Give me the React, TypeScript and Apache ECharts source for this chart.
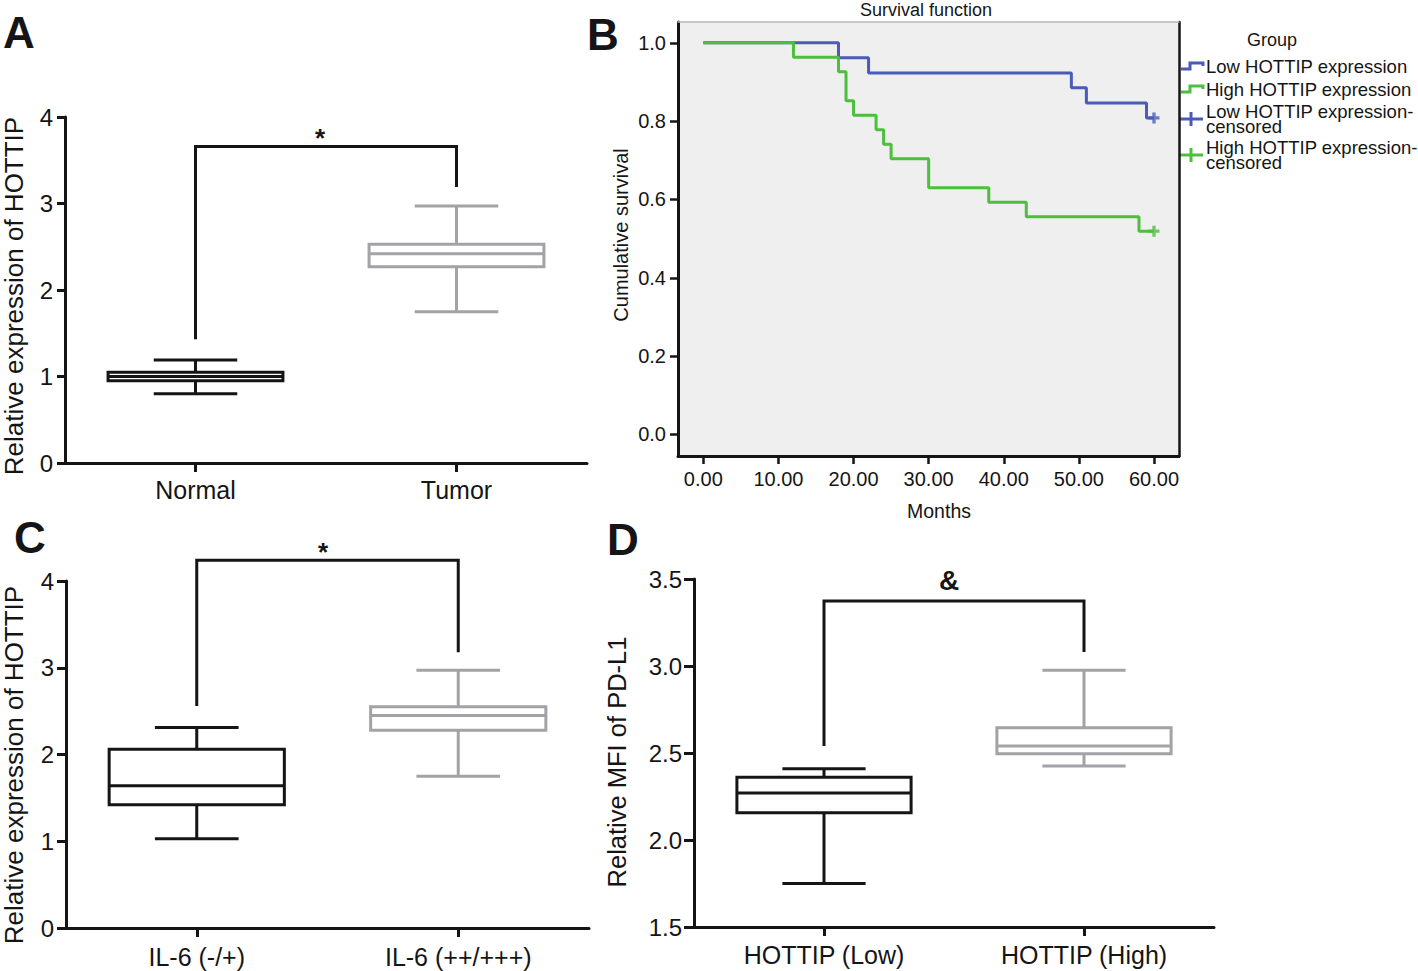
import React, { useEffect, useRef } from "react";
import * as echarts from "echarts";

const FONT = "'Liberation Sans', Arial, Helvetica, sans-serif";
const INK = "#151515";
const GRAY = "#a3a3a7";
const BLUE = "#4b5bb9";
const GREEN = "#4cbf3c";

// Panel A
const catsA = ["Normal", "Tumor"];
const boxNormal = [0.8, 0.95, 1.0, 1.05, 1.19];
const boxTumor = [1.75, 2.27, 2.42, 2.53, 2.97];
const bracketA = [1.43, 3.66, 3.19];

// Panel B (Kaplan-Meier)
const lowTimes = [0, 18, 22, 49, 51, 59, 60];
const lowSurv = [1, 0.962, 0.923, 0.885, 0.846, 0.808, 0.808];
const highTimes = [0, 12, 18, 19, 20, 23, 24, 25, 30, 38, 43, 58, 60];
const highSurv = [1, 0.963, 0.926, 0.852, 0.815, 0.778, 0.741, 0.704, 0.63, 0.593, 0.556, 0.519, 0.519];
const censorLow = [60, 0.808];
const censorHigh = [60, 0.519];
const monthTicks = [0, 10, 20, 30, 40, 50, 60];
const survTicks = [0, 0.2, 0.4, 0.6, 0.8, 1.0];

// Panel C
const catsC = ["IL-6 (-/+)", "IL-6 (++/+++)"];
const boxIL6Low = [1.03, 1.42, 1.64, 2.06, 2.31];
const boxIL6High = [1.75, 2.28, 2.45, 2.55, 2.97];
const bracketC = [2.56, 4.24, 3.18];

// Panel D
const catsD = ["HOTTIP (Low)", "HOTTIP (High)"];
const boxMfiLow = [1.75, 2.156, 2.27, 2.36, 2.41];
const boxMfiHigh = [2.426, 2.495, 2.54, 2.645, 2.975];
const bracketD = [2.54, 3.374, 3.08];

const boxColors = [INK, GRAY];

const renderBox = (params: any, api: any) => {
  const x = api.value(0);
  const lo = api.coord([x, api.value(1)]);
  const q1 = api.coord([x, api.value(2)]);
  const md = api.coord([x, api.value(3)]);
  const q3 = api.coord([x, api.value(4)]);
  const hi = api.coord([x, api.value(5)]);
  const band = api.size([1, 0])[0];
  const bw = band * 0.67;
  const cw = band * 0.32;
  const cx = md[0];
  const color = boxColors[params.dataIndex];
  const ls = { stroke: color, lineWidth: 3, fill: null };
  return {
    type: "group",
    children: [
      { type: "line", shape: { x1: cx, y1: hi[1], x2: cx, y2: q3[1] }, style: ls },
      { type: "line", shape: { x1: cx, y1: q1[1], x2: cx, y2: lo[1] }, style: ls },
      { type: "line", shape: { x1: cx - cw / 2, y1: hi[1], x2: cx + cw / 2, y2: hi[1] }, style: ls },
      { type: "line", shape: { x1: cx - cw / 2, y1: lo[1], x2: cx + cw / 2, y2: lo[1] }, style: ls },
      {
        type: "rect",
        shape: { x: cx - bw / 2, y: q3[1], width: bw, height: q1[1] - q3[1] },
        style: { stroke: color, lineWidth: 3, fill: "#ffffff" },
      },
      { type: "line", shape: { x1: cx - bw / 2, y1: md[1], x2: cx + bw / 2, y2: md[1] }, style: ls },
    ],
  };
};

const boxSeries = (idx: number, a: number[], b: number[]) => ({
  type: "custom",
  xAxisIndex: idx,
  yAxisIndex: idx,
  renderItem: renderBox,
  encode: { x: 0, y: [1, 2, 3, 4, 5] },
  data: [[0, ...a], [1, ...b]],
  z: 3,
});

const bracketSeries = (idx: number, b: number[]) => ({
  type: "line",
  xAxisIndex: idx,
  yAxisIndex: idx,
  clip: false,
  symbol: "none",
  lineStyle: { color: INK, width: 3, join: "miter", cap: "butt" },
  data: [[0, b[0]], [0, b[1]], [1, b[1]], [1, b[2]]],
  z: 4,
});

const catAxis = (grid: number, data: string[], margin: number) => ({
  type: "category",
  gridIndex: grid,
  data,
  boundaryGap: true,
  axisLine: { show: true, lineStyle: { color: INK, width: 3 } },
  axisTick: { show: true, alignWithLabel: true, length: 9, lineStyle: { color: INK, width: 3 } },
  axisLabel: { fontSize: 25, margin, color: INK, fontFamily: FONT },
  splitLine: { show: false },
});

const valAxis = (grid: number, min: number, max: number, interval: number, digits: number, tickLen: number) => ({
  type: "value",
  gridIndex: grid,
  min,
  max,
  interval,
  axisLine: { show: true, onZero: false, lineStyle: { color: INK, width: 3 } },
  axisTick: { show: true, length: tickLen, lineStyle: { color: INK, width: 3 } },
  axisLabel: {
    fontSize: 24,
    margin: 12,
    color: INK,
    fontFamily: FONT,
    formatter: (v: number) => v.toFixed(digits),
  },
  splitLine: { show: false },
});

const txt = (x: number, y: number, text: string, size: number, opts: any = {}) => ({
  type: "text",
  x,
  y,
  rotation: opts.rotation || 0,
  style: {
    text,
    fontSize: size,
    fontFamily: FONT,
    fontWeight: opts.bold ? "bold" : "normal",
    fill: opts.fill || INK,
    align: opts.align || "center",
    verticalAlign: "middle",
    textAlign: opts.align || "center",
    textVerticalAlign: "middle",
  },
});

const plusPath = "path://M3.5,0H6.5V3.5H10V6.5H6.5V10H3.5V6.5H0V3.5H3.5Z";

export default function App() {
  const ref = useRef<HTMLDivElement>(null);
  useEffect(() => {
    if (!ref.current) return;
    const chart = echarts.init(ref.current, undefined, { renderer: "svg" });
    const option: any = {
      animation: false,
      backgroundColor: "#ffffff",
      textStyle: { fontFamily: FONT },
      grid: [
        { left: 65, top: 117, width: 522, height: 346 },
        { left: 678, top: 22, width: 501, height: 434, show: true, backgroundColor: "#efefef", borderWidth: 0 },
        { left: 66, top: 581, width: 523, height: 347 },
        { left: 694, top: 579, width: 520, height: 348 },
      ],
      xAxis: [
        catAxis(0, catsA, 14),
        {
          type: "value",
          gridIndex: 1,
          min: -3.37,
          max: 63.33,
          axisLine: { show: true, onZero: false, lineStyle: { color: INK, width: 3 } },
          axisTick: { show: true, length: 8, customValues: monthTicks, lineStyle: { color: INK, width: 2.5 } },
          axisLabel: {
            customValues: monthTicks,
            fontSize: 20,
            margin: 13,
            color: INK,
            fontFamily: FONT,
            formatter: (v: number) => v.toFixed(2),
          },
          splitLine: { show: false },
        },
        catAxis(2, catsC, 16),
        catAxis(3, catsD, 15),
        {
          type: "value",
          gridIndex: 1,
          position: "top",
          min: -3.37,
          max: 63.33,
          axisLine: { show: true, onZero: false, lineStyle: { color: "#b8b8b8", width: 1.5 } },
          axisTick: { show: false },
          axisLabel: { show: false },
          splitLine: { show: false },
        },
      ],
      yAxis: [
        valAxis(0, 0, 4, 1, 0, 8),
        {
          type: "value",
          gridIndex: 1,
          min: -0.055,
          max: 1.053,
          axisLine: { show: true, onZero: false, lineStyle: { color: INK, width: 3 } },
          axisTick: { show: true, length: 8, customValues: survTicks, lineStyle: { color: INK, width: 2.5 } },
          axisLabel: {
            customValues: survTicks,
            fontSize: 20,
            margin: 12,
            color: INK,
            fontFamily: FONT,
            formatter: (v: number) => v.toFixed(1),
          },
          splitLine: { show: false },
        },
        valAxis(2, 0, 4, 1, 0, 9),
        valAxis(3, 1.5, 3.5, 0.5, 1, 10),
        {
          type: "value",
          gridIndex: 1,
          position: "right",
          min: -0.055,
          max: 1.053,
          axisLine: { show: true, onZero: false, lineStyle: { color: INK, width: 2.5 } },
          axisTick: { show: false },
          axisLabel: { show: false },
          splitLine: { show: false },
        },
      ],
      series: [
        boxSeries(0, boxNormal, boxTumor),
        bracketSeries(0, bracketA),
        boxSeries(2, boxIL6Low, boxIL6High),
        bracketSeries(2, bracketC),
        boxSeries(3, boxMfiLow, boxMfiHigh),
        bracketSeries(3, bracketD),
        {
          type: "line",
          name: "Low HOTTIP expression",
          xAxisIndex: 1,
          yAxisIndex: 1,
          step: "end",
          symbol: "none",
          lineStyle: { color: BLUE, width: 3 },
          data: lowTimes.map((t, i) => [t, lowSurv[i]]),
          z: 3,
        },
        {
          type: "line",
          name: "High HOTTIP expression",
          xAxisIndex: 1,
          yAxisIndex: 1,
          step: "end",
          symbol: "none",
          lineStyle: { color: GREEN, width: 3 },
          data: highTimes.map((t, i) => [t, highSurv[i]]),
          z: 4,
        },
        {
          type: "scatter",
          xAxisIndex: 1,
          yAxisIndex: 1,
          symbol: plusPath,
          symbolSize: 11,
          itemStyle: { color: BLUE },
          data: [censorLow],
          z: 5,
        },
        {
          type: "scatter",
          xAxisIndex: 1,
          yAxisIndex: 1,
          symbol: plusPath,
          symbolSize: 11,
          itemStyle: { color: GREEN },
          data: [censorHigh],
          z: 5,
        },
      ],
      graphic: [
        // panel letters
        txt(19, 32, "A", 44, { bold: true }),
        txt(603, 34, "B", 44, { bold: true }),
        txt(30, 537, "C", 44, { bold: true }),
        txt(623, 539, "D", 44, { bold: true }),
        // axis titles
        txt(14, 296, "Relative expression of HOTTIP", 26, { rotation: Math.PI / 2 }),
        txt(14, 765, "Relative expression of HOTTIP", 26, { rotation: Math.PI / 2 }),
        txt(617, 762, "Relative MFI of PD-L1", 25.5, { rotation: Math.PI / 2 }),
        txt(621, 235, "Cumulative survival", 20, { rotation: Math.PI / 2 }),
        txt(939, 511, "Months", 19.5),
        txt(926, 10, "Survival function", 18),
        // significance marks
        txt(320, 138, "*", 26, { bold: true }),
        txt(323, 552, "*", 26, { bold: true }),
        txt(949, 580, "&", 28, { bold: true }),
        // legend
        txt(1272, 40, "Group", 18),
        {
          type: "polyline",
          shape: { points: [[1181, 69], [1190, 69], [1190, 63], [1203, 63], [1203, 66]] },
          style: { stroke: BLUE, lineWidth: 3, fill: null },
        },
        {
          type: "polyline",
          shape: { points: [[1181, 92], [1190, 92], [1190, 86], [1203, 86], [1203, 89]] },
          style: { stroke: GREEN, lineWidth: 3, fill: null },
        },
        { type: "line", shape: { x1: 1180, y1: 119, x2: 1203, y2: 119 }, style: { stroke: BLUE, lineWidth: 3 } },
        { type: "line", shape: { x1: 1191, y1: 112, x2: 1191, y2: 126 }, style: { stroke: BLUE, lineWidth: 3 } },
        { type: "line", shape: { x1: 1180, y1: 155, x2: 1203, y2: 155 }, style: { stroke: GREEN, lineWidth: 3 } },
        { type: "line", shape: { x1: 1191, y1: 148, x2: 1191, y2: 162 }, style: { stroke: GREEN, lineWidth: 3 } },
        txt(1206, 66, "Low HOTTIP expression", 18.5, { align: "left" }),
        txt(1206, 89, "High HOTTIP expression", 18.5, { align: "left" }),
        txt(1206, 111, "Low HOTTIP expression-", 18.5, { align: "left" }),
        txt(1206, 126, "censored", 18.5, { align: "left" }),
        txt(1206, 147, "High HOTTIP expression-", 18.5, { align: "left" }),
        txt(1206, 162, "censored", 18.5, { align: "left" }),
      ],
    };
    chart.setOption(option);
    return () => chart.dispose();
  }, []);
  return (
    <div
      ref={ref}
      style={{ position: "absolute", left: 0, top: 0, width: 1418, height: 971, background: "#fff" }}
    />
  );
}
